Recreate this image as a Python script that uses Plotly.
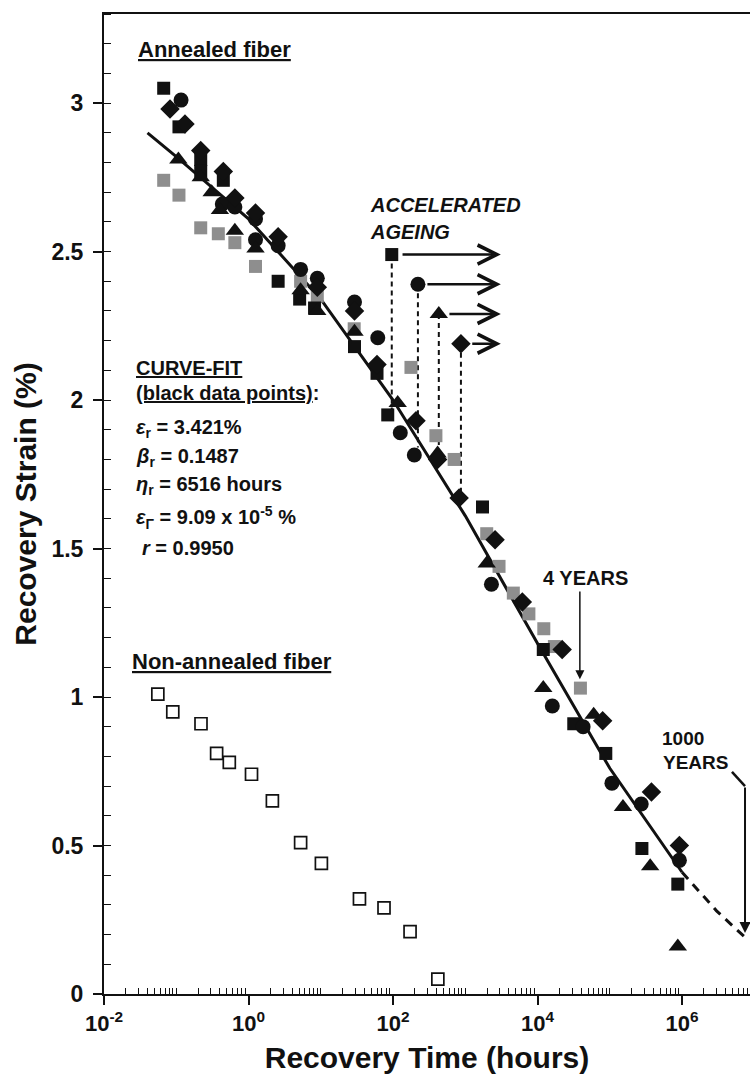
import math
import plotly.graph_objects as go

# ---------------- data ----------------
# Annealed fiber, black squares
bsq_t = [0.067, 0.109, 0.218, 0.218, 0.448, 2.57, 5.1, 8.2, 29.3, 60, 84.5, 1730, 12000, 31700, 88000, 278000, 873000]
bsq_y = [3.05, 2.92, 2.81, 2.77, 2.74, 2.40, 2.34, 2.31, 2.18, 2.09, 1.95, 1.64, 1.16, 0.91, 0.81, 0.49, 0.37]
# black circles
bci_t = [0.1165, 0.434, 0.647, 1.25, 1.25, 2.57, 5.26, 8.95, 29.3, 61.5, 126, 197, 2300, 16000, 42700, 107000, 272000, 918000]
bci_y = [3.01, 2.66, 2.65, 2.61, 2.54, 2.52, 2.44, 2.41, 2.33, 2.21, 1.89, 1.815, 1.38, 0.97, 0.90, 0.71, 0.64, 0.45]
# black triangles
btr_t = [0.107, 0.218, 0.309, 0.402, 0.647, 1.25, 5.26, 8.95, 29.3, 116, 414, 1980, 12000, 59800, 152000, 362000, 873000]
btr_y = [2.81, 2.75, 2.70, 2.64, 2.57, 2.51, 2.37, 2.30, 2.23, 1.99, 1.82, 1.45, 1.03, 0.94, 0.63, 0.43, 0.16]
# black diamonds
bdi_t = [0.082, 0.132, 0.218, 0.448, 0.647, 1.25, 2.57, 8.95, 29.3, 60, 208, 414, 821, 2580, 6150, 21900, 79600, 377000, 918000]
bdi_y = [2.98, 2.93, 2.84, 2.77, 2.68, 2.63, 2.55, 2.38, 2.30, 2.12, 1.93, 1.80, 1.67, 1.53, 1.32, 1.16, 0.92, 0.68, 0.50]
# grey squares
gsq_t = [0.067, 0.109, 0.218, 0.382, 0.647, 1.25, 5.26, 8.95, 29, 177, 392, 701, 1980, 2930, 4620, 7590, 12200, 17100, 39200]
gsq_y = [2.74, 2.69, 2.58, 2.56, 2.53, 2.45, 2.40, 2.35, 2.24, 2.11, 1.88, 1.80, 1.55, 1.44, 1.35, 1.28, 1.23, 1.17, 1.03]
# Non-annealed fiber, open squares
osq_t = [0.0556, 0.0895, 0.22, 0.362, 0.542, 1.1, 2.14, 5.26, 10.2, 34.3, 75, 172, 417]
osq_y = [1.01, 0.95, 0.91, 0.81, 0.78, 0.74, 0.65, 0.51, 0.44, 0.32, 0.29, 0.21, 0.05]

# curve fit (solid) and extrapolation (dashed)
fit_t = [0.04, 0.1, 1, 10, 100, 1000, 10000, 100000, 1000000]
fit_y = [2.90, 2.82, 2.61, 2.34, 2.00, 1.61, 1.18, 0.76, 0.41]
ext_t = [1000000, 3000000, 8300000]
ext_y = [0.41, 0.28, 0.18]

# accelerated ageing points (square, circle, triangle, diamond)
age_t = [96, 221, 430, 870]
age_y = [2.49, 2.39, 2.29, 2.19]
age_drop_y = [1.97, 1.84, 1.84, 1.69]   # where dashed drop lines end
age_arrow_start = [129, 285, 575, 1190]  # hours, start of horizontal arrows
age_arrow_end = 3100                     # hours

# tick labels
y_ticks = [0, 0.5, 1, 1.5, 2, 2.5, 3]
y_ticktext = ["0", "0.5", "1", "1.5", "2", "2.5", "3"]
x_ticks = [0.01, 1, 100, 10000, 1000000]
x_ticktext = ["10<sup>-2</sup>", "10<sup>0</sup>", "10<sup>2</sup>", "10<sup>4</sup>", "10<sup>6</sup>"]

X_RANGE = [-2, 6.94]
FONT = "Liberation Sans, Arial, sans-serif"
BLACK = "#111111"
GREY = "#8e8e8e"

fig = go.Figure()

# fit line
fig.add_trace(go.Scatter(x=fit_t, y=fit_y, mode="lines", line=dict(color=BLACK, width=3), hoverinfo="skip"))
fig.add_trace(go.Scatter(x=ext_t, y=ext_y, mode="lines", line=dict(color=BLACK, width=3, dash="9px,7px"), hoverinfo="skip"))

# dashed drop lines for accelerated ageing
for t, y0, y1 in zip(age_t, age_y, age_drop_y):
    fig.add_trace(go.Scatter(x=[t, t], y=[y0, y1], mode="lines",
                             line=dict(color=BLACK, width=2, dash="5px,4px"), hoverinfo="skip"))

def mk(t, y, symbol, color, size, lw=0, lc=None):
    fig.add_trace(go.Scatter(x=t, y=y, mode="markers",
                             marker=dict(symbol=symbol, color=color, size=size,
                                         line=dict(width=lw, color=lc or color))))

mk(gsq_t, gsq_y, "square", GREY, 13)
mk(bsq_t, bsq_y, "square", BLACK, 13)
mk(bci_t, bci_y, "circle", BLACK, 15)
mk(btr_t, btr_y, "triangle-up", BLACK, 16)
mk(bdi_t, bdi_y, "diamond", BLACK, 15)
mk(osq_t, osq_y, "square", "white", 12, 1.7, BLACK)

# accelerated ageing markers
for t, y, s, sz in zip(age_t, age_y, ["square", "circle", "triangle-up", "diamond"], [13, 15, 16, 15]):
    mk([t], [y], s, BLACK, sz)

L = math.log10
ann = []

def txt(text, x, y, size, xanchor="left", bold=True, italic=False):
    if italic:
        text = "<i>" + text + "</i>"
    if bold:
        text = "<b>" + text + "</b>"
    ann.append(dict(text=text, x=x, y=y, xref="x", yref="y", showarrow=False,
                    xanchor=xanchor, yanchor="middle", font=dict(family=FONT, size=size, color=BLACK)))

U = '<span style="text-decoration:underline">'
txt(U + "Annealed fiber</span>", -1.56, 3.18, 22)
txt(U + "CURVE-FIT</span>", -1.59, 2.108, 20)
txt(U + "(black data points)</span>:", -1.59, 2.024, 20)
txt("<i>ε</i><sub>r</sub> = 3.421%", -1.59, 1.905, 20)
txt("<i>β</i><sub>r</sub> = 0.1487", -1.59, 1.805, 20)
txt("<i>η</i><sub>r</sub> = 6516 hours", -1.59, 1.712, 20)
txt("<i>ε</i><sub>Γ</sub> = 9.09 x 10<sup>-5</sup> %", -1.59, 1.603, 20)
txt("<i>r</i> = 0.9950", -1.50, 1.502, 20)
txt(U + "Non-annealed fiber</span>", -1.64, 1.118, 22)
txt("ACCELERATED", 1.65, 2.657, 20, italic=True)
txt("AGEING", 1.65, 2.566, 20, italic=True)
txt("4 YEARS", 4.662, 1.401, 20, xanchor="center")
txt("1000", 5.70, 0.862, 19)
txt("YEARS", 5.715, 0.778, 19)

# horizontal ageing arrows
for t0, y in zip(age_arrow_start, age_y):
    ann.append(dict(x=L(age_arrow_end), y=y, ax=L(t0), ay=y, xref="x", yref="y", axref="x", ayref="y",
                    text="", showarrow=True, arrowhead=5, arrowsize=1.5, arrowwidth=2.5, arrowcolor=BLACK))

# 4 YEARS arrow
four_t = 38500
ann.append(dict(x=L(four_t), y=1.06, ax=L(four_t), ay=1.36, xref="x", yref="y", axref="x", ayref="y",
                text="", showarrow=True, arrowhead=2, arrowsize=1.2, arrowwidth=1.5, arrowcolor=BLACK))

# 1000 YEARS leader + arrow
kyr_t = 7.43e6
kyr_top, kyr_tip = 0.70, 0.205
fig.add_trace(go.Scatter(x=[4.9e6, kyr_t], y=[0.748, kyr_top], mode="lines",
                         line=dict(color=BLACK, width=2.5), hoverinfo="skip"))
kyr_paper_x = (L(kyr_t) - X_RANGE[0]) / (X_RANGE[1] - X_RANGE[0])
ann.append(dict(x=kyr_paper_x, y=kyr_tip, xref="paper", yref="y", ax=0, ay=-(kyr_top - kyr_tip) * 297,
                text="", showarrow=True, arrowhead=2, arrowsize=1.1, arrowwidth=2, arrowcolor=BLACK))

minor_x = [m * 10.0 ** k for k in range(-2, 7) for m in range(1, 10) if not (m == 1 and k % 2 == 0)]

fig.update_layout(
    width=750, height=1075,
    margin=dict(l=104, r=0, t=14, b=81),
    paper_bgcolor="white", plot_bgcolor="white",
    showlegend=False,
    annotations=ann,
    font=dict(family=FONT, color=BLACK),
    xaxis=dict(type="log", range=X_RANGE, showgrid=False, zeroline=False,
               showline=True, linecolor=BLACK, linewidth=2, mirror=True,
               tickmode="array", tickvals=x_ticks, ticktext=x_ticktext,
               ticks="outside", ticklen=9, tickwidth=2, tickcolor=BLACK,
               tickfont=dict(family=FONT, size=22, color=BLACK, weight="bold"),
               minor=dict(tickmode="array", tickvals=minor_x, ticks="inside", ticklen=6,
                          tickwidth=1.2, tickcolor=BLACK, showgrid=False),
               title=dict(text="<b>Recovery Time (hours)</b>", font=dict(family=FONT, size=30, color=BLACK),
                          standoff=12)),
    yaxis=dict(range=[0, 3.3], showgrid=False, zeroline=False,
               showline=True, linecolor=BLACK, linewidth=2, mirror=False,
               tickmode="array", tickvals=y_ticks, ticktext=y_ticktext,
               ticks="outside", ticklen=9, tickwidth=2, tickcolor=BLACK, ticklabelstandoff=5,
               tickfont=dict(family=FONT, size=23, color=BLACK, weight="bold"),
               minor=dict(dtick=0.1, tick0=0, ticks="inside", ticklen=7, tickwidth=1.2,
                          tickcolor=BLACK, showgrid=False),
               title=dict(text="<b>Recovery Strain (%)</b>", font=dict(family=FONT, size=30, color=BLACK),
                          standoff=6)),
)

fig.write_html("out.html", config={"displayModeBar": False},
               post_script="document.body.style.margin='0';document.body.style.overflow='hidden';")
